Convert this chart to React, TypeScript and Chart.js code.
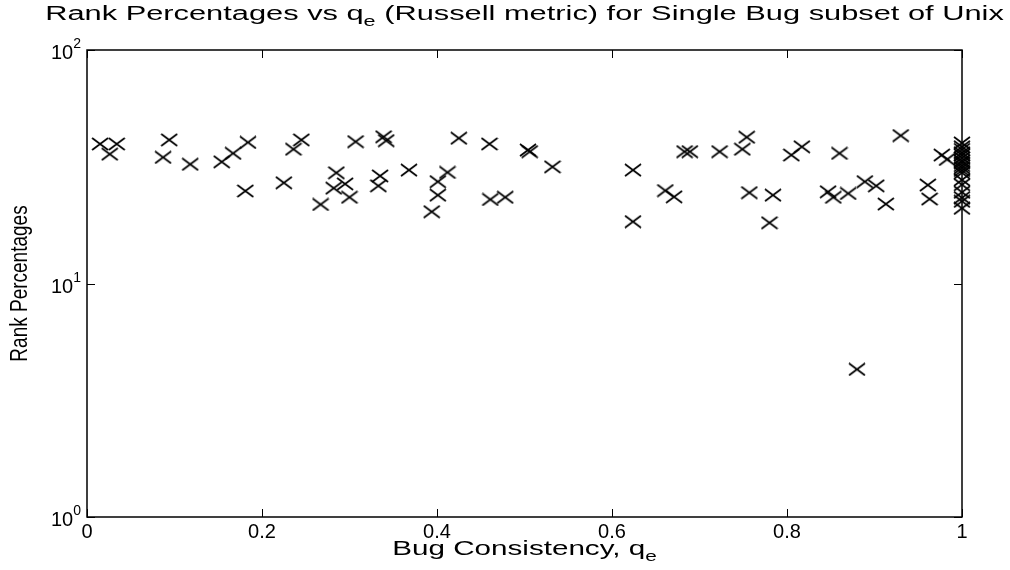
import React, { useEffect, useRef } from "react";
import { Chart, registerables } from "chart.js";

Chart.register(...registerables);

// Bug consistency q_e (x) and rank percentage (y) for each bug
const qValues = [
  0.015, 0.034, 0.026, 0.087, 0.094, 0.118, 0.154, 0.167, 0.184, 0.181,
  0.225, 0.236, 0.245, 0.307, 0.339, 0.342, 0.425, 0.46, 0.504, 0.506,
  0.532, 0.285, 0.282, 0.295, 0.3, 0.267, 0.335, 0.333, 0.368, 0.412,
  0.401, 0.401, 0.394, 0.461, 0.478, 0.624, 0.624, 0.661, 0.671, 0.683,
  0.689, 0.723, 0.749, 0.754, 0.757, 0.784, 0.78, 0.805, 0.817, 0.86,
  0.93, 0.977, 0.983, 0.847, 0.853, 0.87, 0.889, 0.902, 0.913, 0.961,
  0.963, 0.88,
  1, 1, 1, 1, 1, 1, 1, 1, 1, 1, 1, 1, 1, 1, 1, 1, 1, 1,
];
const rankValues = [
  39.6, 39.6, 35.8, 34.7, 41.2, 32.4, 33.2, 36.1, 40.2, 24.9,
  27.0, 37.6, 41.2, 40.5, 42.5, 40.9, 41.9, 39.6, 37.3, 36.7,
  31.6, 29.8, 25.6, 26.7, 23.4, 21.8, 28.9, 26.2, 30.6, 29.9,
  27.3, 23.9, 20.3, 22.9, 23.4, 30.6, 18.4, 25.0, 23.5, 36.7,
  36.7, 36.7, 37.6, 42.3, 24.5, 23.9, 18.2, 35.5, 38.5, 36.1,
  43.0, 35.5, 34.0, 24.7, 23.4, 24.3, 27.3, 26.2, 21.9, 26.4,
  23.0, 4.29,
  40.0, 38.5, 37.5, 36.3, 35.5, 34.5, 33.5, 32.9, 32.0, 31.3, 30.5, 29.8,
  27.8, 26.5, 24.6, 23.3, 22.5, 21.0,
];

const xTickValues = [0, 0.2, 0.4, 0.6, 0.8, 1];
const xTickLabels = ["0", "0.2", "0.4", "0.6", "0.8", "1"];
const yTickValues = [1, 10, 100];
const yTickExponents = ["0", "1", "2"];

const titleMain = "Rank Percentages vs q";
const titleSub = "e";
const titleRest = " (Russell metric) for Single Bug subset of Unix";
const xLabelMain = "Bug Consistency, q";
const xLabelSub = "e";
const yLabel = "Rank Percentages";

const FONT = '"Liberation Sans", Arial, Helvetica, sans-serif';
const fnt = (s: number) => `${s}px ${FONT}`;

type Part = { t: string; size: number; dy: number };

function drawRich(
  ctx: CanvasRenderingContext2D,
  parts: Part[],
  x: number,
  y: number,
  align: "left" | "center" | "right",
  sx = 1
) {
  const widths = parts.map((p) => {
    ctx.font = fnt(p.size);
    return ctx.measureText(p.t).width * sx;
  });
  const total = widths.reduce((a, b) => a + b, 0);
  let cx = align === "left" ? x : align === "center" ? x - total / 2 : x - total;
  parts.forEach((p, i) => {
    ctx.save();
    ctx.font = fnt(p.size);
    ctx.textAlign = "left";
    ctx.textBaseline = "alphabetic";
    ctx.translate(cx, y + p.dy);
    ctx.scale(sx, 1);
    ctx.fillText(p.t, 0, 0);
    ctx.restore();
    cx += widths[i];
  });
}

function makeMarker(): HTMLCanvasElement {
  const c = document.createElement("canvas");
  c.width = 18;
  c.height = 14;
  const g = c.getContext("2d")!;
  g.strokeStyle = "#000";
  g.lineWidth = 1.7;
  g.beginPath();
  g.moveTo(1, 1);
  g.lineTo(17, 13);
  g.moveTo(17, 1);
  g.lineTo(1, 13);
  g.stroke();
  return c;
}

const TICK = 8;
const TITLE_STRETCH = 1.54;
const XLABEL_STRETCH = 1.48;

const decorPlugin = {
  id: "decor",
  afterDraw(chart: any) {
    const ctx: CanvasRenderingContext2D = chart.ctx;
    const { left, right, top, bottom } = chart.chartArea;
    const xs = chart.scales.x;
    const ys = chart.scales.y;
    ctx.save();
    ctx.strokeStyle = "#000";
    ctx.fillStyle = "#000";
    ctx.lineWidth = 1.5;
    ctx.strokeRect(left, top, right - left, bottom - top);
    ctx.lineWidth = 1;
    ctx.beginPath();
    xTickValues.forEach((v) => {
      const px = Math.round(xs.getPixelForValue(v)) + 0.5;
      ctx.moveTo(px, bottom);
      ctx.lineTo(px, bottom - TICK);
      ctx.moveTo(px, top);
      ctx.lineTo(px, top + TICK);
    });
    yTickValues.forEach((v) => {
      const py = Math.round(ys.getPixelForValue(v)) + 0.5;
      ctx.moveTo(left, py);
      ctx.lineTo(left + TICK, py);
      ctx.moveTo(right, py);
      ctx.lineTo(right - TICK, py);
    });
    ctx.stroke();

    // x tick labels
    ctx.font = fnt(20);
    ctx.textAlign = "center";
    ctx.textBaseline = "alphabetic";
    xTickValues.forEach((v, i) => {
      ctx.fillText(xTickLabels[i], xs.getPixelForValue(v), bottom + 21);
    });
    // y tick labels
    yTickValues.forEach((v, i) => {
      const py = ys.getPixelForValue(v);
      drawRich(ctx, [
        { t: "10", size: 20, dy: 9 },
        { t: yTickExponents[i], size: 14, dy: -2 },
      ], left - 6, py, "right");
    });
    // title
    drawRich(ctx, [
      { t: titleMain, size: 20, dy: 0 },
      { t: titleSub, size: 14, dy: 6 },
      { t: titleRest, size: 20, dy: 0 },
    ], (left + right) / 2, 20, "center", TITLE_STRETCH);
    // x label
    drawRich(ctx, [
      { t: xLabelMain, size: 20, dy: 0 },
      { t: xLabelSub, size: 14, dy: 6 },
    ], (left + right) / 2, 555, "center", XLABEL_STRETCH);
    // y label
    ctx.save();
    ctx.translate(27, (top + bottom) / 2);
    ctx.scale(1.3, 1);
    ctx.rotate(-Math.PI / 2);
    ctx.font = fnt(19);
    ctx.textAlign = "center";
    ctx.textBaseline = "alphabetic";
    ctx.fillText(yLabel, 0, 0);
    ctx.restore();
    ctx.restore();
  },
};

export default function App() {
  const ref = useRef<HTMLCanvasElement | null>(null);
  useEffect(() => {
    document.body.style.margin = "0";
    const canvas = ref.current!;
    const marker = makeMarker();
    const chart = new Chart(canvas, {
      type: "scatter",
      data: {
        datasets: [
          {
            data: qValues.map((q, i) => ({ x: q, y: rankValues[i] })),
            pointStyle: marker as any,
            pointRadius: 8,
            clip: false as any,
          },
        ],
      },
      options: {
        responsive: false,
        animation: false,
        devicePixelRatio: 1,
        layout: { padding: { top: 50, right: 48, bottom: 0, left: 0 } },
        plugins: { legend: { display: false }, title: { display: false }, tooltip: { enabled: false } },
        scales: {
          x: {
            type: "linear",
            min: 0,
            max: 1,
            ticks: { display: false },
            grid: { display: false },
            border: { display: false },
            afterFit: (s: any) => {
              s.height = 53;
            },
          },
          y: {
            type: "logarithmic",
            min: 1,
            max: 100,
            ticks: { display: false },
            grid: { display: false },
            border: { display: false },
            afterFit: (s: any) => {
              s.width = 87;
            },
          },
        },
      },
      plugins: [decorPlugin],
    });
    return () => chart.destroy();
  }, []);
  return <canvas ref={ref} width={1010} height={570} style={{ display: "block" }} />;
}
